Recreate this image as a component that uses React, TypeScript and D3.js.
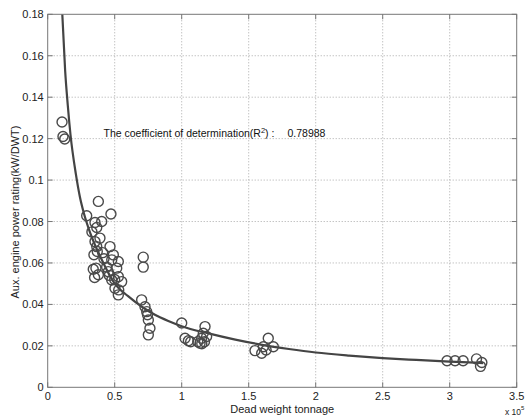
import React from "react";
import { scaleLinear, line, curveMonotoneX, range } from "d3";

// dead weight tonnage (x 10^5) and aux. engine power rating (kW/DWT)
const dwt = [
  0.107, 0.114, 0.127,
  0.378, 0.291, 0.472, 0.353, 0.403, 0.366, 0.33, 0.353, 0.366, 0.465, 0.49, 0.37,
  0.478, 0.527, 0.515, 0.36, 0.378, 0.452, 0.527, 0.552, 0.478, 0.502, 0.527,
  0.34, 0.35, 0.42, 0.44, 0.39, 0.46, 0.5, 0.53, 0.41, 0.345,
  0.713, 0.713, 0.701, 0.726, 0.739, 0.751, 0.763, 0.751, 0.745,
  1.0, 1.025, 1.067, 1.05, 1.174, 1.161, 1.149, 1.137, 1.186, 1.17, 1.12, 1.15,
  1.547, 1.597, 1.646, 1.609, 1.684, 1.63,
  2.98, 3.04, 3.1, 3.2, 3.24, 3.23,
];
const power = [
  0.128, 0.121, 0.1198,
  0.0897, 0.0828, 0.0836, 0.0795, 0.08, 0.0771, 0.075, 0.0703, 0.0679, 0.0679, 0.0639, 0.0655,
  0.0615, 0.0607, 0.0575, 0.0575, 0.0543, 0.0558, 0.0534, 0.051, 0.0518, 0.0478, 0.0446,
  0.057, 0.053, 0.062, 0.058, 0.072, 0.054, 0.052, 0.047, 0.065, 0.064,
  0.0628, 0.058, 0.0422, 0.0389, 0.0365, 0.0325, 0.0285, 0.0253, 0.035,
  0.031, 0.0237, 0.022, 0.0225, 0.0293, 0.0261, 0.0237, 0.0213, 0.0245, 0.022, 0.022, 0.021,
  0.0177, 0.0164, 0.0237, 0.0196, 0.0196, 0.018,
  0.0128, 0.0128, 0.0128, 0.0137, 0.012, 0.0101,
];

// fitted curve
const fitX = [0.109, 0.13, 0.15, 0.17, 0.21, 0.24, 0.27, 0.32, 0.4, 0.5, 0.6, 0.7, 0.8, 0.9, 1.0,
  1.2, 1.4, 1.6, 1.8, 2.0, 2.25, 2.5, 2.75, 3.0, 3.25];
const fitY = [0.18, 0.153, 0.136, 0.122, 0.103, 0.092, 0.084, 0.074, 0.062, 0.05, 0.044, 0.039, 0.035, 0.032, 0.0295,
  0.026, 0.023, 0.0205, 0.0185, 0.0168, 0.0153, 0.0141, 0.0132, 0.0124, 0.0117];

const xTicks = [0, 0.5, 1, 1.5, 2, 2.5, 3, 3.5];
const yTicks = range(0, 0.181, 0.02).map((t) => +t.toFixed(2));

const App = () => {
  const width = 532;
  const height = 418;
  const left = 47.7, right = 516.7, top = 14.3, bottom = 387.3;

  const x = scaleLinear().domain([0, 3.5]).range([left, right]);
  const y = scaleLinear().domain([0, 0.18]).range([bottom, top]);

  const fit = line<number>()
    .x((d) => x(d))
    .y((d, i) => y(fitY[i]))
    .curve(curveMonotoneX);

  const font = "'Liberation Sans', Arial, sans-serif";

  return (
    <svg
      width={width}
      height={height}
      viewBox={`0 0 ${width} ${height}`}
      style={{ position: "absolute", left: 0, top: 0, background: "#fff" }}
      fontFamily={font}
    >
      {/* grid */}
      {xTicks.slice(1, -1).map((t) => (
        <line key={"gx" + t} x1={x(t)} x2={x(t)} y1={top} y2={bottom}
          stroke="#aaa" strokeWidth={1} strokeDasharray="1,2" />
      ))}
      {yTicks.slice(1, -1).map((t, i) => (
        <line key={"gy" + i} x1={left} x2={right} y1={y(t)} y2={y(t)}
          stroke="#aaa" strokeWidth={1} strokeDasharray="1,2" />
      ))}

      {/* ticks on all sides */}
      {xTicks.map((t) => (
        <g key={"tx" + t} stroke="#777">
          <line x1={x(t)} x2={x(t)} y1={bottom} y2={bottom - 5} />
          <line x1={x(t)} x2={x(t)} y1={top} y2={top + 5} />
        </g>
      ))}
      {yTicks.map((t, i) => (
        <g key={"ty" + i} stroke="#777">
          <line x1={left} x2={left + 5} y1={y(t)} y2={y(t)} />
          <line x1={right} x2={right - 5} y1={y(t)} y2={y(t)} />
        </g>
      ))}

      {/* fitted curve */}
      <path d={fit(fitX) ?? ""} fill="none" stroke="#444" strokeWidth={2.2} />

      {/* data */}
      {dwt.map((d, i) => (
        <circle key={i} cx={x(d)} cy={y(power[i])} r={5}
          fill="none" stroke="#4a4a4a" strokeWidth={1.4} />
      ))}

      <rect x={left} y={top} width={right - left} height={bottom - top}
        fill="none" stroke="#777" strokeWidth={1} />

      {/* tick labels */}
      {xTicks.map((t) => (
        <text key={"lx" + t} x={x(t)} y={bottom + 13} fontSize={11}
          textAnchor="middle" fill="#222">{t}</text>
      ))}
      {yTicks.map((t, i) => (
        <text key={"ly" + i} x={left - 4} y={y(t) + 4} fontSize={11}
          textAnchor="end" fill="#222">{t}</text>
      ))}

      <text x={505} y={415} fontSize={8.5} fill="#222">
        x 10<tspan dy={-5} fontSize={6}>5</tspan>
      </text>

      <text x={(left + right) / 2} y={413} fontSize={11} textAnchor="middle" fill="#222">
        Dead weight tonnage
      </text>
      <text transform={`translate(19,212) rotate(-90)`} fontSize={11}
        textAnchor="middle" fill="#222">
        Aux. engine power rating(kW/DWT)
      </text>

      <text x={103.5} y={137} fontSize={10.5} fill="#111">
        The coefficient of determination(R
        <tspan dy={-4} fontSize={7.5}>2</tspan>
        <tspan dy={4}>) :</tspan>
      </text>
      <text x={287.5} y={137} fontSize={10.5} fill="#111">0.78988</text>
    </svg>
  );
};

export default App;
